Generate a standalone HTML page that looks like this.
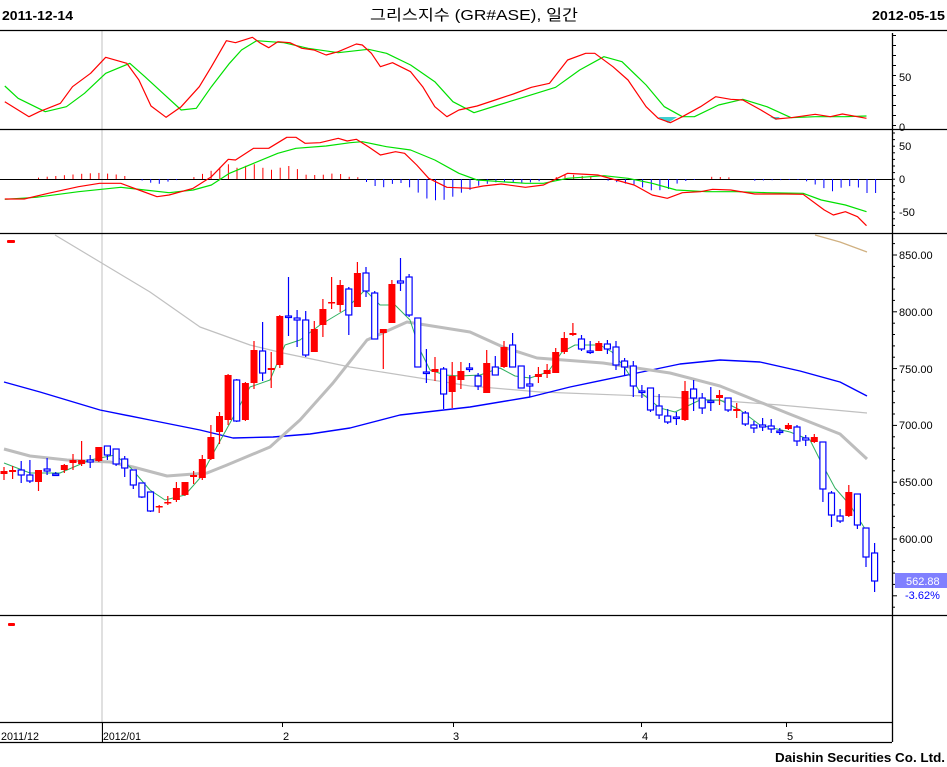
<!DOCTYPE html>
<html><head><meta charset="utf-8"><style>
body{margin:0;background:#fff;width:947px;height:767px;overflow:hidden}
svg{display:block}
text{font-family:"Liberation Sans","Noto Sans CJK KR",sans-serif}
</style></head><body>
<svg id="s" width="947" height="767" xmlns="http://www.w3.org/2000/svg">
<rect width="947" height="767" fill="#fff"/>
<text x="2" y="20" font-size="13" font-weight="bold" textLength="71" lengthAdjust="spacingAndGlyphs">2011-12-14</text>
<text x="370" y="20" font-size="15" textLength="208" lengthAdjust="spacingAndGlyphs">그리스지수 (GR#ASE), 일간</text>
<text x="872" y="20" font-size="13" font-weight="bold" textLength="73" lengthAdjust="spacingAndGlyphs">2012-05-15</text>
<line x1="102" y1="31" x2="102" y2="742" stroke="#c0c0c0" stroke-width="1"/>
<g stroke="#000" stroke-width="1.3">
<line x1="0" y1="30.5" x2="947" y2="30.5"/>
<line x1="0" y1="129.5" x2="947" y2="129.5"/>
<line x1="0" y1="233.5" x2="947" y2="233.5"/>
<line x1="0" y1="615.5" x2="947" y2="615.5"/>
<line x1="0" y1="722.5" x2="892" y2="722.5"/>
<line x1="0" y1="742.5" x2="892" y2="742.5"/>
<line x1="892.5" y1="33" x2="892.5" y2="742"/>
</g>
<g id="dyn"></g>
<g font-size="11" fill="#000">
<text x="899" y="81">50</text><text x="899" y="131">0</text>
<text x="899" y="150">50</text><text x="899" y="183">0</text><text x="899" y="216">-50</text>
<text x="899" y="259">850.00</text><text x="899" y="316">800.00</text><text x="899" y="373">750.00</text>
<text x="899" y="429">700.00</text><text x="899" y="486">650.00</text><text x="899" y="543">600.00</text>
</g>
<rect x="895" y="573" width="52" height="15" fill="#8080ff"/>
<text x="906" y="585" font-size="11" fill="#fff">562.88</text>
<text x="905" y="599" font-size="11" fill="#0000ff">-3.62%</text>
<rect x="7" y="240" width="8" height="3" fill="#f00" rx="1"/>
<rect x="8" y="623" width="7" height="3" fill="#f00" rx="1"/>
<g font-size="11" fill="#000">
<text x="1" y="740" textLength="38" lengthAdjust="spacingAndGlyphs">2011/12</text>
<text x="103" y="740" textLength="38" lengthAdjust="spacingAndGlyphs">2012/01</text>
<text x="283" y="740">2</text><text x="453" y="740">3</text><text x="642" y="740">4</text><text x="787" y="740">5</text>
</g>
<g stroke="#000"><line x1="282.5" y1="723" x2="282.5" y2="727"/><line x1="453.5" y1="723" x2="453.5" y2="727"/><line x1="641.5" y1="723" x2="641.5" y2="727"/><line x1="786.5" y1="723" x2="786.5" y2="727"/><line x1="102.5" y1="723" x2="102.5" y2="742"/></g>
<text x="945" y="762" font-size="13" font-weight="bold" text-anchor="end" textLength="170" lengthAdjust="spacingAndGlyphs">Daishin Securities Co. Ltd.</text>
</svg>
<script>
var NS="http://www.w3.org/2000/svg",g=document.getElementById("dyn");
function el(t,a){var e=document.createElementNS(NS,t);for(var k in a)e.setAttribute(k,a[k]);g.appendChild(e);return e;}
function pl(pts,c,w,sc){var s=pts.map(function(p){return (sc?p[0]/1.656:p[0]).toFixed(1)+","+(sc?p[1]/3:p[1]).toFixed(1)}).join(" ");el("polyline",{points:s,fill:"none",stroke:c,"stroke-width":w,"stroke-linejoin":"round"});}
for(var y=35;y<=127;y+=10)el("line",{x1:892,y1:y+0.5,x2:896,y2:y+0.5,stroke:"#000"});
for(var y=133;y<=229;y+=6.6)el("line",{x1:892,y1:y.toFixed(1),x2:895,y2:y.toFixed(1),stroke:"#000"});
for(var v=860;v>=530;v-=10){var yy=255+(850-v)*1.136;if(yy<238||yy>612)continue;el("line",{x1:892,y1:yy.toFixed(1),x2:(v%50==0?897:895),y2:yy.toFixed(1),stroke:"#000"});}
var sr=[[8,305],[48,350],[65,335],[100,310],[120,260],[150,220],[175,172],[210,190],[230,240],[250,318],[275,352],[300,320],[330,260],[350,200],[375,122],[390,128],[418,112],[430,128],[445,143],[460,125],[480,128],[500,145],[520,150],[540,165],[560,155],[590,132],[600,135],[615,160],[630,200],[650,188],[680,215],[700,260],[720,320],[740,350],[760,330],[790,318],[820,300],[850,282],[880,262],[910,250],[940,180],[970,160],[985,160],[1015,200],[1040,240],[1070,320],[1090,355],[1110,368],[1130,350],[1160,320],[1185,290],[1210,298],[1230,300],[1260,330],[1285,357],[1310,353],[1350,343],[1375,350],[1395,342],[1435,355]];
var sg=[[8,258],[30,295],[75,335],[110,320],[140,280],[175,220],[215,190],[240,230],[270,280],[300,330],[325,325],[350,260],[380,190],[400,150],[425,122],[470,128],[510,145],[560,158],[610,148],[640,160],[680,195],[720,245],[750,305],[785,338],[820,318],[870,290],[920,262],[960,210],[1000,170],[1030,185],[1070,255],[1100,320],[1130,350],[1150,350],[1190,315],[1230,298],[1270,320],[1310,353],[1350,350],[1400,350],[1435,348]];
el("polygon",{points:"658,117 677,117 668,123",fill:"#40d0d0"});
el("polygon",{points:"770,117 780,117 776,120",fill:"#40d0d0"});
pl(sg,"#00e000",1.2,true);pl(sr,"#ff0000",1.2,true);
var mr=[[8,597],[40,597],[80,580],[130,560],[165,550],[200,550],[230,570],[260,590],[280,585],[320,565],[350,530],[378,478],[390,480],[420,445],[445,445],[475,412],[490,412],[505,430],[530,428],[560,415],[575,423],[590,418],[610,440],[630,465],[655,455],[670,460],[690,495],[710,535],[740,562],[780,565],[800,558],[830,552],[870,562],[900,555],[940,520],[960,522],[990,525],[1020,540],[1050,555],[1080,585],[1105,595],[1130,578],[1160,575],[1180,568],[1210,570],[1250,582],[1300,582],[1330,583],[1365,630],[1380,645],[1400,635],[1420,650],[1435,677]];
var ms=[[8,598],[60,592],[130,575],[200,562],[240,570],[280,578],[320,570],[350,555],[380,520],[420,490],[460,460],[490,445],[540,438],[580,428],[600,425],[640,440],[680,450],[720,480],[760,520],[790,540],[830,545],[870,550],[900,550],[940,535],[1000,527],[1040,535],[1080,550],[1120,570],[1170,575],[1220,575],[1270,578],[1330,580],[1360,600],[1400,615],[1435,635]];
function interp(a,x){for(var i=0;i<a.length-1;i++){if(x>=a[i][0]&&x<=a[i+1][0]){var t=(x-a[i][0])/(a[i+1][0]-a[i][0]);return (a[i][1]+t*(a[i+1][1]-a[i][1]))/3;}}return a[a.length-1][1]/3;}
el("line",{x1:0,y1:179.5,x2:892,y2:179.5,stroke:"#000"});
for(var i=0;i<102;i++){var x=4+8.63*i;var zx=x*1.656;if(zx<12)continue;var d=interp(ms,zx)-interp(mr,zx);var h=d*1.0;if(Math.abs(h)<0.8)continue;el("line",{x1:x.toFixed(1),y1:179,x2:x.toFixed(1),y2:(179-h).toFixed(1),stroke:h>0?"#ff0000":"#0000ff","stroke-width":1});}
pl(ms,"#00e000",1.2,true);pl(mr,"#ff0000",1.2,true);
pl([[55,235],[100,262],[150,292],[200,327],[250,345],[283,353],[350,367],[470,386],[540,392],[670,397],[780,405],[867,413]],"#c0c0c0",1.2);
pl([[815,235],[840,242],[867,252]],"#d0b080",1.2);
pl([[4,382],[40,392],[100,410],[150,420],[200,430],[233,438],[273,437],[310,434],[350,428],[400,415],[470,407],[530,397],[570,387],[637,373],[680,364],[720,360],[760,362],[800,371],[840,382],[867,396]],"#0000ff",1.4);
pl([[4,449],[30,456],[67,460],[110,462],[133,467],[167,476],[207,473],[227,465],[270,447],[300,420],[333,383],[367,340],[407,322],[470,332],[503,347],[537,358],[603,363],[670,373],[720,386],[787,413],[840,434],[867,459]],"#bdbdbd",3);
pl([[4,463],[30,473],[60,473],[90,460],[115,455],[130,467],[150,490],[165,500],[185,495],[200,478],[215,450],[230,423],[250,387],[270,380],[285,345],[300,340],[320,325],[345,310],[365,290],[380,305],[395,305],[410,320],[420,350],[430,370],[445,375],[460,376],[480,375],[500,368],[515,376],[530,378],[548,372],[562,352],[575,345],[600,345],[612,352],[625,368],[640,392],[660,408],[675,412],[700,400],[720,400],[740,410],[760,425],[790,432],[810,440],[820,460],[835,488],[850,505],[867,532]],"#30b060",1);
var C=[[471,474,467,480,'R'],[470,472,466,479,'R'],[470,475,461,483,'B'],[475,481,460,483,'B'],[470,482,470,491,'R'],[469,471,458,475,'B'],[474,475,472,476,'B'],[465,470,464,473,'R'],[460,463,454,470,'R'],[460,464,441,466,'R'],[460,462,455,468,'B'],[447,461,447,462,'R'],[446,455,446,460,'B'],[449,464,449,466,'B'],[459,468,456,477,'B'],[470,485,470,489,'B'],[483,497,483,498,'B'],[492,511,492,512,'B'],[506,507,505,513,'R'],[502,503,496,505,'R'],[488,500,482,502,'R'],[482,495,482,496,'R'],[475,477,471,484,'R'],[459,478,455,480,'R'],[437,459,425,460,'R'],[416,432,412,444,'R'],[375,420,374,425,'R'],[380,421,379,422,'B'],[383,420,382,421,'R'],[350,383,341,389,'R'],[351,373,322,381,'B'],[368,370,352,388,'R'],[316,365,315,368,'R'],[316,316,277,336,'B'],[318,320,310,347,'B'],[320,355,311,357,'B'],[329,352,321,352,'R'],[309,325,299,337,'R'],[302,303,277,309,'R'],[285,305,280,312,'R'],[289,315,287,335,'B'],[273,307,262,307,'R'],[273,291,267,297,'B'],[293,339,291,339,'B'],[329,333,329,369,'R'],[284,323,280,323,'R'],[281,283,258,291,'B'],[277,315,274,317,'B'],[318,367,318,367,'B'],[372,372,349,383,'B'],[369,372,357,381,'R'],[369,394,367,409,'B'],[376,392,362,408,'R'],[371,380,362,389,'R'],[368,369,363,372,'B'],[376,386,373,390,'B'],[363,393,350,393,'R'],[367,375,356,375,'B'],[347,367,341,368,'R'],[345,367,333,367,'B'],[366,388,366,388,'B'],[384,386,375,397,'B'],[374,377,367,383,'R'],[370,374,364,378,'R'],[352,373,348,373,'R'],[338,352,332,354,'R'],[333,335,323,336,'R'],[339,349,335,351,'B'],[351,352,341,354,'B'],[343,351,341,351,'R'],[344,349,340,354,'B'],[347,365,341,370,'B'],[361,367,358,375,'B'],[366,386,361,397,'B'],[391,392,385,398,'B'],[388,410,388,412,'B'],[406,415,394,419,'B'],[416,422,409,424,'B'],[417,418,412,425,'B'],[391,420,381,421,'R'],[389,398,380,411,'B'],[398,408,393,414,'B'],[401,402,387,411,'B'],[395,398,390,405,'R'],[398,410,398,412,'B'],[409,411,403,418,'R'],[413,424,411,426,'B'],[425,428,421,433,'B'],[425,427,418,431,'B'],[426,429,419,433,'B'],[431,431,428,435,'B'],[425,429,423,430,'R'],[427,441,425,446,'B'],[438,440,435,446,'B'],[437,442,434,443,'R'],[442,489,442,502,'B'],[493,515,491,527,'B'],[516,521,509,523,'B'],[492,516,485,517,'R'],[494,525,494,529,'B'],[528,557,528,567,'B'],[553,581,543,592,'B']];
for(var i=0;i<C.length;i++){var c=C[i],x=4+8.62*i,col=c[4]=='R'?'#ff0000':'#0000ff';
el("line",{x1:x.toFixed(1),y1:c[2],x2:x.toFixed(1),y2:c[3],stroke:col,"stroke-width":1.2});
var h=Math.max(c[1]-c[0],1.5);
if(c[4]=='R')el("rect",{x:(x-3.5).toFixed(1),y:c[0],width:7,height:h,fill:col});
else el("rect",{x:(x-3).toFixed(1),y:c[0],width:6,height:h,fill:"#fff",stroke:col,"stroke-width":1.2});}
</script>
</body></html>
